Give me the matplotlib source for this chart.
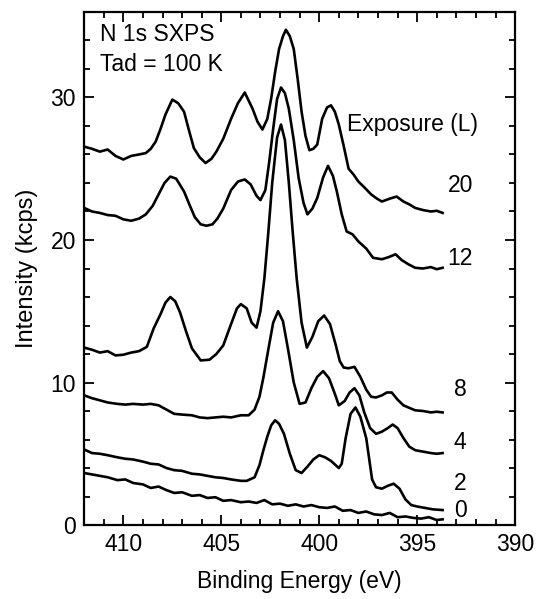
#!/usr/bin/python3
# coding: utf-8

'''
N 1s SXPS spectra at Tad = 100 K for several exposures (L).
Values read off a scanned figure.
'''

import matplotlib
matplotlib.use('Agg')
import matplotlib.pyplot as plt
from matplotlib.ticker import MultipleLocator

OUT_FILENAME = 'out.png'

## Exposure labels, from bottom to top
exposures = ['0', '2', '4', '8', '12', '20']

e_0 = [412.0, 411.6, 411.2, 410.8, 410.3, 409.9, 409.5, 409.0, 408.6, 408.2, 407.8, 407.4,
       407.0, 406.5, 406.1, 405.7, 405.3, 404.9, 404.5, 404.0, 403.6, 403.2, 402.8, 402.4,
       402.0, 401.6, 401.2, 400.8, 400.4, 400.0, 399.6, 399.2, 398.8, 398.4, 398.0, 397.6,
       397.2, 396.8, 396.4, 396.0, 395.6, 395.2, 394.8, 394.4, 394.0, 393.7]
i_0 = [3.65, 3.55, 3.45, 3.35, 3.15, 3.2, 2.95, 2.85, 2.6, 2.7, 2.45, 2.25,
       2.3, 2.05, 2.1, 1.9, 1.95, 1.7, 1.75, 1.6, 1.65, 1.55, 1.75, 1.45,
       1.5, 1.35, 1.45, 1.3, 1.4, 1.25, 1.2, 1.3, 1.0, 1.05, 0.85, 0.95,
       0.75, 0.7, 0.85, 0.55, 0.6, 0.5, 0.45, 0.55, 0.35, 0.4]

e_2 = [412.0, 411.6, 411.2, 410.8, 410.3, 409.9, 409.5, 409.0, 408.6, 408.2, 407.8, 407.4,
       407.0, 406.5, 406.1, 405.7, 405.3, 404.9, 404.5, 404.0, 403.7, 403.3, 403.05, 402.85,
       402.65, 402.45, 402.25, 402.05, 401.8, 401.5, 401.2, 400.9, 400.6, 400.3, 400.0, 399.7,
       399.4, 399.0, 398.85, 398.65, 398.4, 398.15, 397.9, 397.6, 397.3, 397.1, 396.8, 396.5,
       396.2, 395.9, 395.6, 395.3, 395.0, 394.6, 394.2, 393.7]
i_2 = [5.3, 5.05, 5.0, 4.9, 4.75, 4.65, 4.6, 4.45, 4.3, 4.25, 4.0, 3.85,
       3.8, 3.6, 3.55, 3.45, 3.35, 3.3, 3.2, 3.1, 3.1, 3.35, 4.2, 5.25,
       6.2, 7.0, 7.35, 7.1, 6.4, 5.0, 3.85, 3.65, 4.1, 4.6, 4.9, 4.75,
       4.5, 4.0, 4.3, 6.1, 7.8, 8.25, 7.6, 6.1, 3.2, 2.65, 2.55, 2.75,
       2.9, 2.55, 1.8, 1.4, 1.3, 1.2, 1.1, 1.05]

e_4 = [412.0, 411.6, 411.2, 410.8, 410.3, 409.9, 409.5, 409.0, 408.6, 408.2, 407.8, 407.4,
       407.0, 406.5, 406.1, 405.7, 405.3, 404.9, 404.5, 404.0, 403.6, 403.3, 403.05, 402.85,
       402.6, 402.35, 402.1, 401.85, 401.6, 401.3, 401.0, 400.7, 400.4, 400.1, 399.8, 399.5,
       399.2, 399.0, 398.7, 398.45, 398.2, 397.95, 397.7, 397.4, 397.1, 396.8, 396.5, 396.25,
       396.0, 395.7, 395.4, 395.1, 394.7, 394.3, 394.0, 393.7]
i_4 = [9.1, 8.9, 8.75, 8.6, 8.5, 8.45, 8.5, 8.45, 8.5, 8.4, 8.1, 7.8,
       7.75, 7.7, 7.55, 7.5, 7.55, 7.6, 7.55, 7.7, 7.7, 8.1, 9.0, 10.35,
       12.3, 14.2, 15.0, 14.3, 12.4, 10.0, 8.5, 8.6, 9.6, 10.4, 10.8, 10.3,
       9.2, 8.4, 8.7, 9.3, 9.6, 9.1, 7.9, 6.8, 6.4, 6.55, 6.8, 7.05,
       6.8, 6.1, 5.5, 5.25, 5.15, 5.05, 5.0, 5.05]

e_8 = [412.0, 411.6, 411.2, 410.8, 410.4, 410.0, 409.6, 409.2, 408.8, 408.45, 408.1, 407.85,
       407.6, 407.35, 407.1, 406.8, 406.5, 406.05, 405.6, 405.25, 404.9, 404.5, 404.2, 404.0,
       403.7, 403.45, 403.2, 403.0, 402.8, 402.6, 402.4, 402.15, 401.95, 401.75, 401.55, 401.35,
       401.15, 400.9, 400.63, 400.35, 400.05, 399.75, 399.45, 399.15, 398.95, 398.75, 398.5, 398.2,
       397.9, 397.6, 397.35, 397.1, 396.8, 396.55, 396.3, 396.0, 395.7, 395.45, 395.1, 394.7,
       394.3, 394.0, 393.7]
i_8 = [12.45, 12.3, 12.1, 12.2, 11.9, 11.95, 12.1, 12.2, 12.5, 13.8, 14.8, 15.6,
       16.0, 15.7, 14.9, 13.6, 12.4, 11.55, 11.6, 12.0, 12.6, 14.1, 15.2, 15.5,
       15.2, 14.2, 13.85, 15.0, 17.3, 20.5, 24.0, 27.2, 28.1, 27.0, 24.0, 20.5,
       17.3, 14.2, 12.45, 13.2, 14.3, 14.7, 14.1, 12.6, 11.5, 11.05, 11.0, 11.1,
       10.4, 9.5, 9.0, 8.95, 9.1, 9.3, 9.3, 8.8, 8.4, 8.25, 8.05, 8.0,
       7.9, 7.95, 7.9]

e_12 = [412.0, 411.6, 411.2, 410.8, 410.4, 410.0, 409.6, 409.2, 408.85, 408.5, 408.2, 407.9,
        407.6, 407.3, 406.9, 406.6, 406.35, 406.05, 405.75, 405.45, 405.2, 404.9, 404.5, 404.15,
        403.8, 403.5, 403.2, 403.0, 402.75, 402.55, 402.35, 402.15, 401.95, 401.75, 401.55, 401.3,
        401.05, 400.8, 400.6, 400.35, 400.1, 399.8, 399.55, 399.3, 399.1, 398.85, 398.6, 398.3,
        398.0, 397.6, 397.25, 396.8, 396.45, 396.1, 395.8, 395.45, 395.1, 394.7, 394.3, 394.0,
        393.7]
i_12 = [22.25, 22.0, 21.9, 21.75, 21.7, 21.45, 21.35, 21.5, 21.8, 22.4, 23.2, 24.0,
        24.45, 24.3, 23.4, 22.4, 21.6, 21.1, 21.0, 21.1, 21.5, 22.2, 23.5, 24.1,
        24.25, 23.9, 23.1, 22.8, 23.5, 25.5, 27.8, 29.9, 30.7, 30.3, 29.2, 27.0,
        24.35, 22.6, 21.8, 22.2, 22.95, 24.4, 25.2, 24.5, 23.4, 21.8, 20.6, 20.4,
        19.9, 19.4, 18.75, 18.65, 18.8, 19.0, 18.6, 18.3, 18.05, 18.0, 18.1, 17.95,
        18.05]

e_20 = [412.0, 411.6, 411.2, 410.8, 410.4, 410.0, 409.6, 409.2, 408.85, 408.6, 408.35, 408.1,
        407.85, 407.5, 407.2, 406.9, 406.65, 406.4, 406.1, 405.8, 405.5, 405.25, 404.9, 404.5,
        404.15, 403.8, 403.4, 403.15, 402.9, 402.65, 402.45, 402.25, 402.05, 401.85, 401.7, 401.5,
        401.3, 401.1, 400.9, 400.7, 400.5, 400.3, 400.1, 399.85, 399.6, 399.4, 399.2, 399.0,
        398.75, 398.5, 398.25, 398.0, 397.7, 397.35, 397.05, 396.8, 396.4, 396.05, 395.7, 395.4,
        395.1, 394.7, 394.3, 394.0, 393.7]
i_20 = [26.55, 26.4, 26.2, 26.35, 25.9, 25.65, 25.9, 26.0, 26.1, 26.4, 26.9, 27.8,
        28.8, 29.85, 29.6, 29.0, 27.7, 26.45, 25.8, 25.4, 25.7, 26.2, 27.1, 28.5,
        29.6, 30.35, 29.2, 28.3, 27.75, 28.5, 29.95, 31.8, 33.4, 34.3, 34.75, 34.3,
        33.4, 31.3, 29.0, 27.3, 26.3, 26.4, 26.7, 28.5, 29.3, 29.45, 29.0, 28.1,
        26.6, 25.0, 24.6, 24.1, 23.7, 23.2, 22.9, 22.7, 22.9, 23.05, 22.7, 22.5,
        22.25, 22.1, 22.0, 22.05, 21.9]

energies = [e_0, e_2, e_4, e_8, e_12, e_20]
intensities = [i_0, i_2, i_4, i_8, i_12, i_20]
## label heights for the exposure numbers at the right of each curve
label_y = [1.0, 2.9, 5.8, 9.5, 18.7, 23.8]

plt.rcParams['font.family'] = ['Liberation Sans', 'DejaVu Sans']
fontsize = 16.5

fig = plt.figure(figsize=(5.36, 5.99), dpi=100)
ax = fig.add_axes([0.157, 0.1235, 0.804, 0.8565])

for xs, ys in zip(energies, intensities):
    ax.plot(xs, ys, color='black', linewidth=1.9)

for label, y in zip(exposures, label_y):
    ax.text(392.8, y, label, ha='center', va='center', fontsize=fontsize)

ax.text(411.2, 34.4, 'N 1s SXPS', ha='left', va='center', fontsize=fontsize)
ax.text(411.2, 32.3, 'Tad = 100 K', ha='left', va='center', fontsize=fontsize)
ax.text(398.6, 28.1, 'Exposure (L)', ha='left', va='center', fontsize=fontsize)

ax.set_xlim(412, 390)
ax.set_ylim(0, 36)
ax.xaxis.set_major_locator(MultipleLocator(5))
ax.xaxis.set_minor_locator(MultipleLocator(1))
ax.yaxis.set_major_locator(MultipleLocator(10))
ax.yaxis.set_minor_locator(MultipleLocator(2))
ax.tick_params(which='both', direction='in', top=True, right=True,
               labelsize=fontsize, width=1.3)
ax.tick_params(which='major', length=7, pad=6)
ax.tick_params(which='minor', length=4)
for spine in ax.spines.values():
    spine.set_linewidth(1.6)

ax.set_xlabel('Binding Energy (eV)', fontsize=16.5)
ax.xaxis.set_label_coords(0.5, -0.088)
ax.set_ylabel('Intensity (kcps)', fontsize=17, labelpad=9)

fig.savefig(OUT_FILENAME, dpi=100)
